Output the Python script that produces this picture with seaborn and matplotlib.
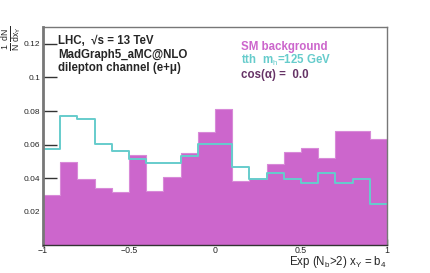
import numpy as np
import pandas as pd
import matplotlib
matplotlib.use('Agg')
import matplotlib.pyplot as plt
import seaborn as sns

# binning of x_Y = b4
bin_edges = [-1.0, -0.9, -0.8, -0.7, -0.6, -0.5, -0.4, -0.3, -0.2, -0.1, 0.0,
             0.1, 0.2, 0.3, 0.4, 0.5, 0.6, 0.7, 0.8, 0.9, 1.0]

# normalised distributions
sm_background = [0.030, 0.0495, 0.0398, 0.0343, 0.0319, 0.0537, 0.0321, 0.0406, 0.0553, 0.0674,
                 0.0810, 0.0384, 0.0394, 0.0483, 0.0556, 0.0582, 0.0520, 0.0681, 0.0681, 0.0636]
tth_signal = [0.0576, 0.0772, 0.0750, 0.0604, 0.0560, 0.0517, 0.0493, 0.0493, 0.0532, 0.0605,
              0.0601, 0.0467, 0.0394, 0.0432, 0.0398, 0.0372, 0.0432, 0.0372, 0.0396, 0.0247]

y_ticks = [0.02, 0.04, 0.06, 0.08, 0.1, 0.12]
y_ticklabels = ['0.02', '0.04', '0.06', '0.08', '0.1', '0.12']
x_ticks = [-1, -0.5, 0, 0.5, 1]
x_ticklabels = ['\u22121', '\u22120.5', '0', '0.5', '1']

centers = [(a + b) / 2 for a, b in zip(bin_edges[:-1], bin_edges[1:])]
df = pd.DataFrame({'x': centers, 'sm': sm_background, 'tth': tth_signal})

sns.set_style('ticks')
plt.rcParams['font.family'] = ['Liberation Sans', 'DejaVu Sans']
plt.rcParams['mathtext.fontset'] = 'custom'
plt.rcParams['mathtext.rm'] = 'Liberation Sans'
plt.rcParams['mathtext.it'] = 'Liberation Sans'
plt.rcParams['mathtext.bf'] = 'Liberation Sans:bold'

magenta = '#cc66cc'
cyan = '#66cccc'
purple = '#663366'

fig = plt.figure(figsize=(4.3, 2.73), dpi=100)
ax = fig.add_axes([0.1, 0.101, 0.8, 0.8])

sns.histplot(data=df, x='x', weights='sm', bins=bin_edges, element='step', fill=True,
             color=magenta, alpha=1.0, linewidth=0.8, edgecolor='#d88ad8', ax=ax)
sns.histplot(data=df, x='x', weights='tth', bins=bin_edges, element='step', fill=False,
             color=cyan, linewidth=1.4, ax=ax)

ax.set_xlim(-1, 1)
ax.set_ylim(0, 0.13)
ax.set_yticks(y_ticks)
ax.set_yticklabels(y_ticklabels, fontsize=6)
ax.set_xticks(x_ticks)
ax.set_xticklabels(x_ticklabels, fontsize=6.3)
ax.tick_params(axis='y', direction='in', length=10, width=1, color='#333333', pad=2)
ax.tick_params(axis='x', direction='in', length=4, width=1, color='#333333', pad=0.5)

ax.spines['left'].set_linewidth(2.0)
ax.spines['left'].set_color('#777777')
ax.spines['bottom'].set_linewidth(1.0)
ax.spines['bottom'].set_color('#333333')
for s in ['top', 'right']:
    ax.spines[s].set_linewidth(1.0)
    ax.spines[s].set_color('#777777')
    ax.spines[s].set_visible(True)

ax.set_xlabel('')
ax.set_ylabel('')
fig.text(0.9, 0.03, r'Exp (N$_{\mathrm{b}}$>2) x$_{\mathrm{Y}}$ = b$_{4}$', ha='right',
         va='baseline', fontsize=8.3)
fig.text(0.002, 0.905, r'$\frac{1}{N}\,\frac{dN}{dx_{Y}}$', rotation=90, ha='left', va='top',
         fontsize=9)

ax.text(0.043, 0.935, 'LHC,  \u221as = 13 TeV', transform=ax.transAxes, fontsize=8.3,
        fontweight='bold', va='center')
ax.text(0.043, 0.873, 'MadGraph5_aMC@NLO', transform=ax.transAxes, fontsize=8.3,
        fontweight='bold', va='center')
ax.text(0.043, 0.811, 'dilepton channel (e+\u03bc)', transform=ax.transAxes, fontsize=8.3,
        fontweight='bold', va='center')

ax.text(0.575, 0.91, 'SM background', transform=ax.transAxes, fontsize=8.3,
        fontweight='bold', color=magenta, va='center')
ax.text(0.575, 0.845, r'tth  m$_{\mathrm{h}}$=125 GeV', transform=ax.transAxes, fontsize=8.3,
        fontweight='bold', color=cyan, va='center')
ax.text(0.575, 0.78, 'cos(\u03b1) =  0.0', transform=ax.transAxes, fontsize=8.3,
        fontweight='bold', color=purple, va='center')

fig.savefig('out.png', dpi=100)
